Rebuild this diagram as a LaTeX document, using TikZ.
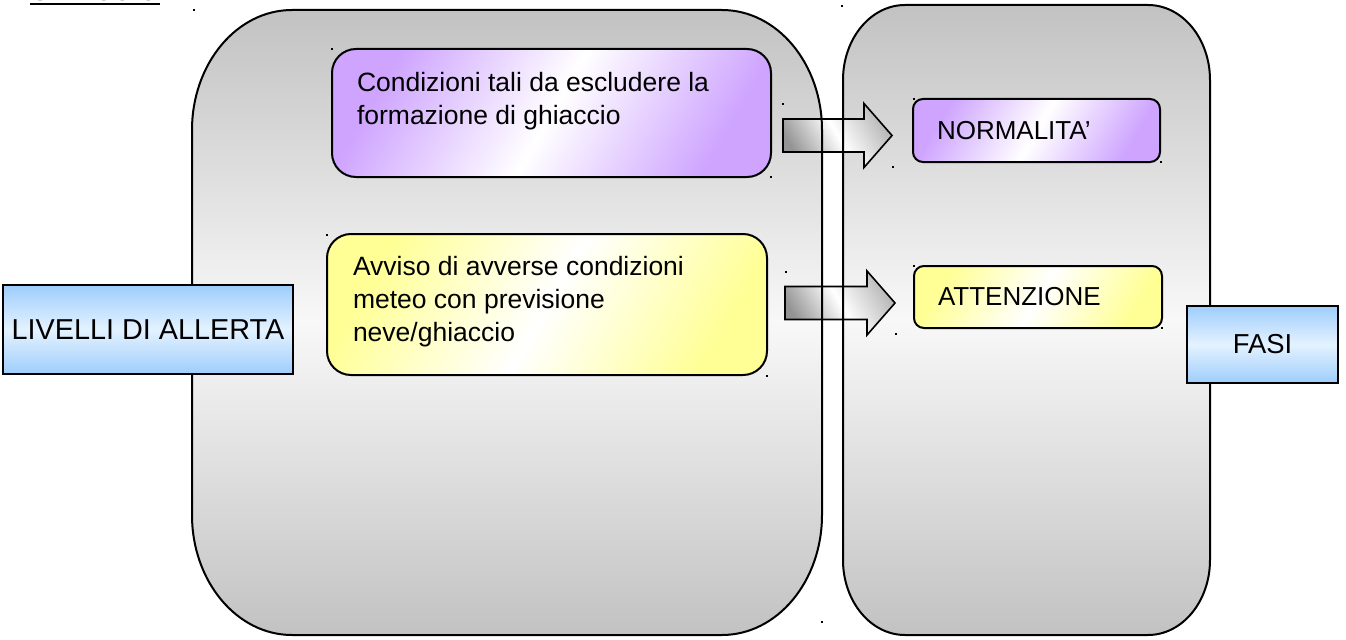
\documentclass[tikz,border=0pt]{standalone}
\usepackage{fontspec}
\setmainfont{Liberation Sans}
\usepackage{tikz}
\usetikzlibrary{calc}
\definecolor{panelgray}{RGB}{194,194,194}
\definecolor{panellight}{RGB}{248,248,248}
\definecolor{lilla}{RGB}{206,164,255}
\definecolor{giallo}{RGB}{255,255,150}
\definecolor{azzurro}{RGB}{158,205,252}
\definecolor{azzurrochiaro}{RGB}{228,242,255}
\tikzstyle{pannello}=[top color=panelgray,bottom color=panelgray,middle color=panellight]
\tikzstyle{bordo}=[draw,line width=1pt]
\tikzstyle{viola}=[bordo,rounded corners=12pt,left color=lilla,right color=lilla,middle color=white,shading angle=60]
\tikzstyle{gialla}=[bordo,rounded corners=12pt,left color=giallo,right color=giallo,middle color=white,shading angle=60]
\tikzstyle{fase}=[bordo,rounded corners=5pt,align=left,inner xsep=12pt,font=\fontsize{13}{15}\selectfont]
\tikzstyle{titolo}=[bordo,top color=azzurro,bottom color=azzurro,middle color=azzurrochiaro]
\tikzstyle{testo}=[align=left,inner sep=0pt,font=\fontsize{13.25}{16.5}\selectfont]
\tikzstyle{freccia}=[draw,line width=0.8pt,left color=black!42,right color=black!28,middle color=white,shading angle=120]
\newcommand{\pannellopath}[6]{(#1,#4-#6) arc[start angle=180,end angle=90,x radius=#5,y radius=#6] -- (#3-#5,#4) arc[start angle=90,end angle=0,x radius=#5,y radius=#6] -- (#3,#2+#6) arc[start angle=0,end angle=-90,x radius=#5,y radius=#6] -- (#1+#5,#2) arc[start angle=270,end angle=180,x radius=#5,y radius=#6] -- cycle}
\newcommand{\blockarrow}[2]{\path[freccia] ($(#1)+(0,16.5)$) -- ($(#2)+(-28,16.5)$) -- ($(#2)+(-28,32)$) -- (#2) -- ($(#2)+(-28,-32)$) -- ($(#2)+(-28,-16.5)$) -- ($(#1)+(0,-16.5)$) -- cycle;}
\tikzset{every picture/.style={
    line width=1pt
  }
}
\begin{document}
\begin{tikzpicture}[x=0.5pt,y=0.5pt]
  \useasboundingbox (0,0) rectangle (1346,639);
  \node[anchor=base west,inner sep=0pt,font=\fontsize{12.8}{14}\selectfont\bfseries\itshape] (ghiaccio) at (30,638) {GHIACCIO};
  \draw ([yshift=-1.5pt]ghiaccio.base west) -- ([yshift=-1.5pt]ghiaccio.base east);
  \shade[pannello] \pannellopath{192}{4}{822}{629}{100}{120};
  \shade[pannello] \pannellopath{843}{4}{1210}{634}{62}{75};

  \coordinate (f1a) at (783,503.5);
  \coordinate (f2a) at (785,336);
  \node[viola,minimum width=219.5pt,minimum height=64pt] (cond) at (551.5,526) {};
  \node[testo,anchor=north west] (condtxt) at ([shift={(25,-23)}]cond.north west) {Condizioni tali da escludere la\\formazione di ghiaccio};
  \node[gialla,minimum width=220pt,minimum height=70.5pt] (avviso) at (547,334.5) {};
  \node[testo,anchor=north west] (avvisotxt) at ([shift={(26,-22)}]avviso.north west) {Avviso di avverse condizioni\\meteo con previsione\\neve/ghiaccio};
  \node[fase,viola,rounded corners=5pt,text width=99.5pt,minimum height=31.5pt] (norm) at (1036.5,508.5) {NORMALITA’};
  \node[fase,gialla,rounded corners=5pt,text width=100pt,minimum height=31pt] (attn) at (1038,342) {ATTENZIONE};
  \coordinate (f1b) at ($(norm.west |- f1a)+(-20,0)$);
  \coordinate (f2b) at ($(attn.west |- f2a)+(-18,0)$);
  \blockarrow{f1a}{f1b}
  \blockarrow{f2a}{f2b}
  \draw \pannellopath{192}{4}{822}{629}{100}{120};
  \draw \pannellopath{843}{4}{1210}{634}{62}{75};

  \node[titolo,minimum width=145pt,minimum height=44.5pt,font=\fontsize{14.4}{16}\selectfont] (livelli) at (148,309.5) {LIVELLI DI ALLERTA};
  \node[titolo,minimum width=75.5pt,minimum height=38.5pt,font=\fontsize{13.7}{16}\selectfont] (fasi) at (1262.5,294.5) {FASI};

  \foreach \px/\py in {194/10,332/49,842/6,783/104,771/177,893/167,914/99,1161/162,327/235,786/272,767/376,896/334,914/266,1162/328,822/622}
    \fill (\px-1,640-\py) rectangle (\px+1,638-\py);
\end{tikzpicture}
\end{document}
